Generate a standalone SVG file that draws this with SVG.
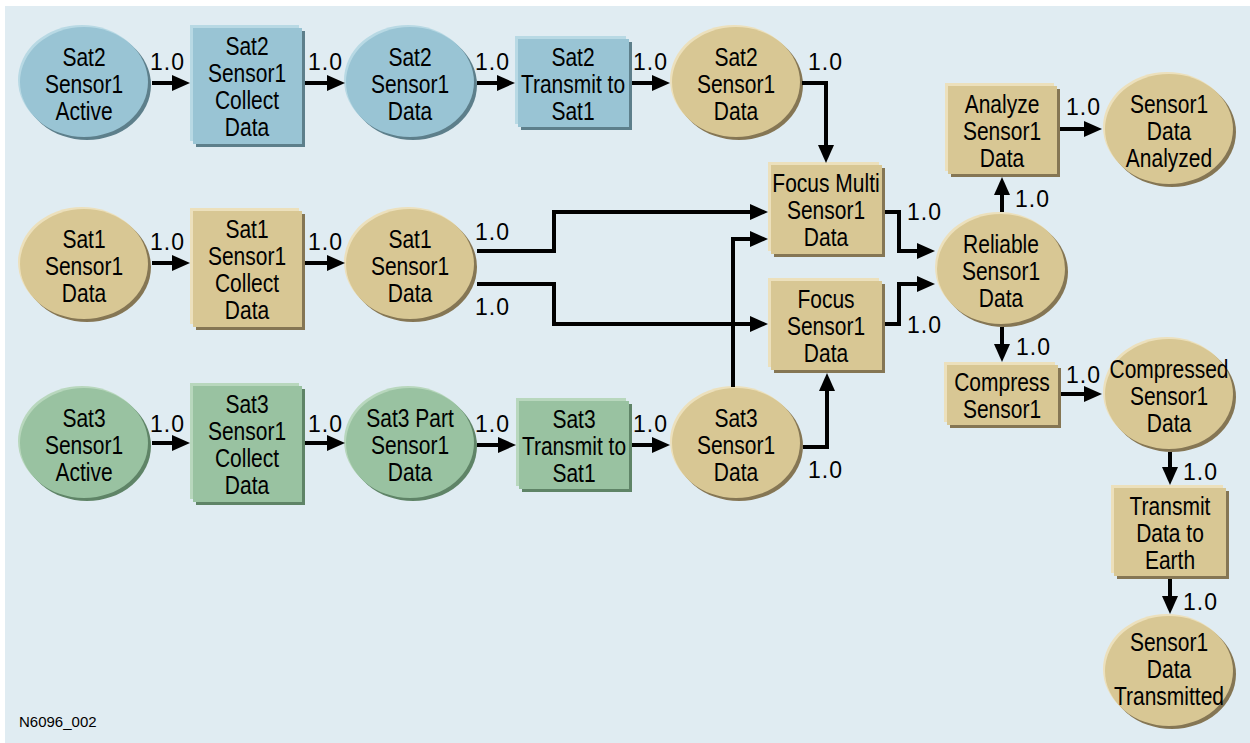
<svg xmlns="http://www.w3.org/2000/svg" width="1250" height="743" viewBox="0 0 1250 743">
<defs>
<style>
.bg{fill:#E0ECF2}
.t{font-family:"Liberation Sans",Arial,sans-serif;font-size:25px;fill:#000;text-anchor:middle}
.lb{font-family:"Liberation Sans",Arial,sans-serif;font-size:23px;fill:#000;letter-spacing:1px}
.ft{font-family:"Liberation Sans",Arial,sans-serif;font-size:15px;fill:#000}
.tan .m{fill:#D8C794}.tan .l{fill:#ECE0BC}.tan .d{fill:#857654}
.blue .m{fill:#99C4D4}.blue .l{fill:#B8D9E4}.blue .d{fill:#5D7F8B}
.green .m{fill:#99C2A1}.green .l{fill:#B8D7BD}.green .d{fill:#5F8467}
.c path{fill:none;stroke:#000;stroke-width:4;marker-end:url(#ah)}
</style>
<marker id="ah" markerUnits="userSpaceOnUse" markerWidth="18" markerHeight="16" refX="12" refY="8" orient="auto">
<path d="M0,0 L18,8 L0,16 Z" fill="#000"/>
</marker>
</defs>
<rect class="bg" x="5" y="6" width="1245" height="737"/>

<g id="e1" class="blue"><ellipse class="l" cx="82" cy="80" rx="64" ry="55"/><ellipse class="d" cx="87" cy="85" rx="64" ry="55"/><ellipse class="m" cx="84" cy="82" rx="64" ry="55"/>
<text class="t" transform="matrix(0.84,0,0,1,84,0)"><tspan x="0" y="66">Sat2</tspan><tspan x="0" y="93">Sensor1</tspan><tspan x="0" y="120">Active</tspan></text></g>
<g id="r1" class="blue"><rect class="l" x="190" y="25" width="109" height="116"/><rect class="d" x="196" y="31" width="109" height="116"/><rect class="m" x="193" y="28" width="109" height="116"/>
<text class="t" transform="matrix(0.84,0,0,1,247,0)"><tspan x="0" y="55">Sat2</tspan><tspan x="0" y="82">Sensor1</tspan><tspan x="0" y="109">Collect</tspan><tspan x="0" y="136">Data</tspan></text></g>
<g id="e2" class="blue"><ellipse class="l" cx="408" cy="80" rx="64" ry="55"/><ellipse class="d" cx="413" cy="85" rx="64" ry="55"/><ellipse class="m" cx="410" cy="82" rx="64" ry="55"/>
<text class="t" transform="matrix(0.84,0,0,1,410,0)"><tspan x="0" y="66">Sat2</tspan><tspan x="0" y="93">Sensor1</tspan><tspan x="0" y="120">Data</tspan></text></g>
<g id="r2" class="blue"><rect class="l" x="515" y="36" width="111" height="88"/><rect class="d" x="521" y="42" width="111" height="88"/><rect class="m" x="518" y="39" width="111" height="88"/>
<text class="t" transform="matrix(0.84,0,0,1,573,0)"><tspan x="0" y="66">Sat2</tspan><tspan x="0" y="93">Transmit to</tspan><tspan x="0" y="120">Sat1</tspan></text></g>
<g id="e3" class="tan"><ellipse class="l" cx="734" cy="80" rx="64" ry="55"/><ellipse class="d" cx="739" cy="85" rx="64" ry="55"/><ellipse class="m" cx="736" cy="82" rx="64" ry="55"/>
<text class="t" transform="matrix(0.84,0,0,1,736,0)"><tspan x="0" y="66">Sat2</tspan><tspan x="0" y="93">Sensor1</tspan><tspan x="0" y="120">Data</tspan></text></g>

<g id="e4" class="tan"><ellipse class="l" cx="82" cy="262" rx="64" ry="55"/><ellipse class="d" cx="87" cy="267" rx="64" ry="55"/><ellipse class="m" cx="84" cy="264" rx="64" ry="55"/>
<text class="t" transform="matrix(0.84,0,0,1,84,0)"><tspan x="0" y="248">Sat1</tspan><tspan x="0" y="275">Sensor1</tspan><tspan x="0" y="302">Data</tspan></text></g>
<g id="r3" class="tan"><rect class="l" x="190" y="208" width="109" height="116"/><rect class="d" x="196" y="214" width="109" height="116"/><rect class="m" x="193" y="211" width="109" height="116"/>
<text class="t" transform="matrix(0.84,0,0,1,247,0)"><tspan x="0" y="238">Sat1</tspan><tspan x="0" y="265">Sensor1</tspan><tspan x="0" y="292">Collect</tspan><tspan x="0" y="319">Data</tspan></text></g>
<g id="e5" class="tan"><ellipse class="l" cx="408" cy="262" rx="64" ry="55"/><ellipse class="d" cx="413" cy="267" rx="64" ry="55"/><ellipse class="m" cx="410" cy="264" rx="64" ry="55"/>
<text class="t" transform="matrix(0.84,0,0,1,410,0)"><tspan x="0" y="248">Sat1</tspan><tspan x="0" y="275">Sensor1</tspan><tspan x="0" y="302">Data</tspan></text></g>

<g id="e6" class="green"><ellipse class="l" cx="82" cy="441" rx="64" ry="55"/><ellipse class="d" cx="87" cy="446" rx="64" ry="55"/><ellipse class="m" cx="84" cy="443" rx="64" ry="55"/>
<text class="t" transform="matrix(0.84,0,0,1,84,0)"><tspan x="0" y="427">Sat3</tspan><tspan x="0" y="454">Sensor1</tspan><tspan x="0" y="481">Active</tspan></text></g>
<g id="r4" class="green"><rect class="l" x="190" y="383" width="109" height="116"/><rect class="d" x="196" y="389" width="109" height="116"/><rect class="m" x="193" y="386" width="109" height="116"/>
<text class="t" transform="matrix(0.84,0,0,1,247,0)"><tspan x="0" y="413">Sat3</tspan><tspan x="0" y="440">Sensor1</tspan><tspan x="0" y="467">Collect</tspan><tspan x="0" y="494">Data</tspan></text></g>
<g id="e7" class="green"><ellipse class="l" cx="408" cy="441" rx="64" ry="55"/><ellipse class="d" cx="413" cy="446" rx="64" ry="55"/><ellipse class="m" cx="410" cy="443" rx="64" ry="55"/>
<text class="t" transform="matrix(0.84,0,0,1,410,0)"><tspan x="0" y="427">Sat3 Part</tspan><tspan x="0" y="454">Sensor1</tspan><tspan x="0" y="481">Data</tspan></text></g>
<g id="r5" class="green"><rect class="l" x="516" y="398" width="110" height="88"/><rect class="d" x="522" y="404" width="110" height="88"/><rect class="m" x="519" y="401" width="110" height="88"/>
<text class="t" transform="matrix(0.84,0,0,1,574,0)"><tspan x="0" y="428">Sat3</tspan><tspan x="0" y="455">Transmit to</tspan><tspan x="0" y="482">Sat1</tspan></text></g>
<g id="e8" class="tan"><ellipse class="l" cx="734" cy="441" rx="64" ry="55"/><ellipse class="d" cx="739" cy="446" rx="64" ry="55"/><ellipse class="m" cx="736" cy="443" rx="64" ry="55"/>
<text class="t" transform="matrix(0.84,0,0,1,736,0)"><tspan x="0" y="427">Sat3</tspan><tspan x="0" y="454">Sensor1</tspan><tspan x="0" y="481">Data</tspan></text></g>

<g id="r6" class="tan"><rect class="l" x="768" y="162" width="111" height="89"/><rect class="d" x="774" y="168" width="111" height="89"/><rect class="m" x="771" y="165" width="111" height="89"/>
<text class="t" transform="matrix(0.84,0,0,1,826,0)"><tspan x="0" y="192">Focus Multi</tspan><tspan x="0" y="219">Sensor1</tspan><tspan x="0" y="246">Data</tspan></text></g>
<g id="r7" class="tan"><rect class="l" x="768" y="278" width="111" height="89"/><rect class="d" x="774" y="284" width="111" height="89"/><rect class="m" x="771" y="281" width="111" height="89"/>
<text class="t" transform="matrix(0.84,0,0,1,826,0)"><tspan x="0" y="308">Focus</tspan><tspan x="0" y="335">Sensor1</tspan><tspan x="0" y="362">Data</tspan></text></g>
<g id="e9" class="tan"><ellipse class="l" cx="999" cy="267" rx="64" ry="55"/><ellipse class="d" cx="1004" cy="272" rx="64" ry="55"/><ellipse class="m" cx="1001" cy="269" rx="64" ry="55"/>
<text class="t" transform="matrix(0.84,0,0,1,1001,0)"><tspan x="0" y="253">Reliable</tspan><tspan x="0" y="280">Sensor1</tspan><tspan x="0" y="307">Data</tspan></text></g>
<g id="r8" class="tan"><rect class="l" x="945" y="83" width="109" height="88"/><rect class="d" x="951" y="89" width="109" height="88"/><rect class="m" x="948" y="86" width="109" height="88"/>
<text class="t" transform="matrix(0.84,0,0,1,1002,0)"><tspan x="0" y="113">Analyze</tspan><tspan x="0" y="140">Sensor1</tspan><tspan x="0" y="167">Data</tspan></text></g>
<g id="e10" class="tan"><ellipse class="l" cx="1167" cy="127" rx="64" ry="55"/><ellipse class="d" cx="1172" cy="132" rx="64" ry="55"/><ellipse class="m" cx="1169" cy="129" rx="64" ry="55"/>
<text class="t" transform="matrix(0.84,0,0,1,1169,0)"><tspan x="0" y="113">Sensor1</tspan><tspan x="0" y="140">Data</tspan><tspan x="0" y="167">Analyzed</tspan></text></g>
<g id="r9" class="tan"><rect class="l" x="944" y="362" width="111" height="60"/><rect class="d" x="950" y="368" width="111" height="60"/><rect class="m" x="947" y="365" width="111" height="60"/>
<text class="t" transform="matrix(0.84,0,0,1,1002,0)"><tspan x="0" y="391">Compress</tspan><tspan x="0" y="418">Sensor1</tspan></text></g>
<g id="e11" class="tan"><ellipse class="l" cx="1167" cy="392" rx="64" ry="55"/><ellipse class="d" cx="1172" cy="397" rx="64" ry="55"/><ellipse class="m" cx="1169" cy="394" rx="64" ry="55"/>
<text class="t" transform="matrix(0.84,0,0,1,1169,0)"><tspan x="0" y="378">Compressed</tspan><tspan x="0" y="405">Sensor1</tspan><tspan x="0" y="432">Data</tspan></text></g>
<g id="r10" class="tan"><rect class="l" x="1111" y="485" width="112" height="88"/><rect class="d" x="1117" y="491" width="112" height="88"/><rect class="m" x="1114" y="488" width="112" height="88"/>
<text class="t" transform="matrix(0.84,0,0,1,1170,0)"><tspan x="0" y="515">Transmit</tspan><tspan x="0" y="542">Data to</tspan><tspan x="0" y="569">Earth</tspan></text></g>
<g id="e12" class="tan"><ellipse class="l" cx="1167" cy="669" rx="64" ry="55"/><ellipse class="d" cx="1172" cy="674" rx="64" ry="55"/><ellipse class="m" cx="1169" cy="671" rx="64" ry="55"/>
<text class="t" transform="matrix(0.84,0,0,1,1169,0)"><tspan x="0" y="651">Sensor1</tspan><tspan x="0" y="678">Data</tspan><tspan x="0" y="705">Transmitted</tspan></text></g>

<g id="connectors" class="c">
<path d="M152,83 H184"/>
<path d="M305,83 H339"/>
<path d="M477,83 H509"/>
<path d="M632,83 H664"/>
<path d="M802,83 H826 V157"/>
<path d="M152,263 H184"/>
<path d="M305,263 H339"/>
<path d="M477,251 H554 V212 H762"/>
<path d="M477,284 H554 V324 H762"/>
<path d="M152,443 H184"/>
<path d="M305,443 H339"/>
<path d="M477,445 H510"/>
<path d="M632,445 H664"/>
<path d="M733,387 V239 H762"/>
<path d="M803,447 H827 V379"/>
<path d="M885,212 H899 V251 H929"/>
<path d="M885,324 H899 V284 H929"/>
<path d="M1002,212 V183"/>
<path d="M1060,129 H1096"/>
<path d="M1002,327 V356"/>
<path d="M1061,394 H1096"/>
<path d="M1170,452 V479"/>
<path d="M1170,579 V608"/>
</g>
<g id="labels">
<text class="lb" x="150" y="70">1.0</text>
<text class="lb" x="308" y="70">1.0</text>
<text class="lb" x="475" y="70">1.0</text>
<text class="lb" x="633" y="70">1.0</text>
<text class="lb" x="808" y="70">1.0</text>
<text class="lb" x="150" y="250">1.0</text>
<text class="lb" x="308" y="250">1.0</text>
<text class="lb" x="475" y="240">1.0</text>
<text class="lb" x="475" y="315">1.0</text>
<text class="lb" x="150" y="432">1.0</text>
<text class="lb" x="308" y="432">1.0</text>
<text class="lb" x="475" y="432">1.0</text>
<text class="lb" x="633" y="432">1.0</text>
<text class="lb" x="808" y="478">1.0</text>
<text class="lb" x="907" y="220">1.0</text>
<text class="lb" x="907" y="333">1.0</text>
<text class="lb" x="1015" y="207">1.0</text>
<text class="lb" x="1066" y="115">1.0</text>
<text class="lb" x="1016" y="355">1.0</text>
<text class="lb" x="1066" y="383">1.0</text>
<text class="lb" x="1183" y="480">1.0</text>
<text class="lb" x="1183" y="610">1.0</text>
</g>
<text class="ft" x="19" y="727">N6096_002</text>
</svg>
